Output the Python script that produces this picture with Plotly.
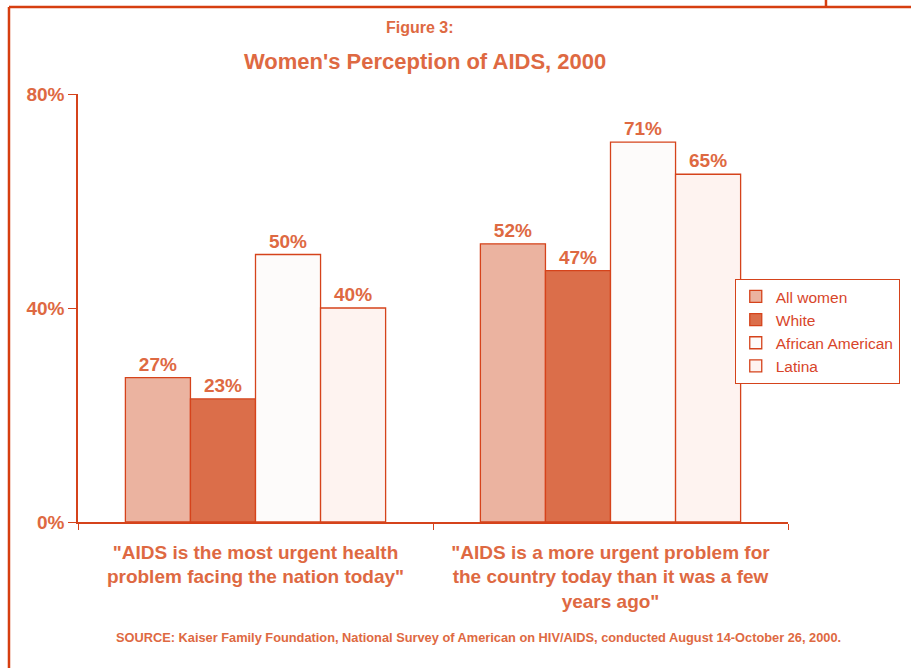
import plotly.graph_objects as go

# data
categories = [
    '"AIDS is the most urgent health<br>problem facing the nation today"',
    '"AIDS is a more urgent problem for<br>the country today than it was a few<br>years ago"',
]
groups = ["All women", "White", "African American", "Latina"]
values = {
    "All women": [27, 52],
    "White": [23, 47],
    "African American": [50, 71],
    "Latina": [40, 65],
}
y_ticks = [0, 40, 80]
y_ticklabels = ["0%", "40%", "80%"]

fills = {
    "All women": "#EBB3A0",
    "White": "#DB6E4A",
    "African American": "#FDFBFA",
    "Latina": "#FEF3F0",
}
TXT = "#DE6942"
EDGE = "#D5431B"
FRAME = "#D63E10"
FONT = "Liberation Sans, Arial, sans-serif"

fig = go.Figure()
for g in groups:
    fig.add_trace(go.Bar(
        x=categories, y=values[g], name=g,
        marker=dict(color=fills[g], line=dict(color=EDGE, width=1.3)),
        text=[f"{v}%" for v in values[g]], textposition="outside",
        textfont=dict(size=19, color=TXT, family=FONT, weight="bold"),
        cliponaxis=False,
    ))

fig.update_layout(
    width=911, height=668,
    margin=dict(l=78, r=123, t=94, b=146, autoexpand=False),
    paper_bgcolor="white", plot_bgcolor="white",
    barmode="group", bargap=0.267, bargroupgap=0,
    font=dict(family=FONT, color=TXT),
    showlegend=True,
    legend=dict(
        x=0.925, y=0.568, xanchor="left", yanchor="top",
        bordercolor=EDGE, borderwidth=1, bgcolor="white",
        font=dict(size=15.5, color="#D8452A", family=FONT),
        itemwidth=30, tracegroupgap=0,
    ),
    xaxis=dict(
        showline=True, linecolor=EDGE, linewidth=1.5,
        ticks="outside", tickson="boundaries", ticklen=6, tickcolor=EDGE,
        tickfont=dict(size=19, color=TXT, family=FONT, weight="bold"),
        ticklabelstandoff=12,
    ),
    yaxis=dict(
        range=[0, 80], tickvals=y_ticks, ticktext=y_ticklabels,
        showgrid=False, zeroline=False,
        showline=True, linecolor=EDGE, linewidth=1.5,
        ticks="outside", ticklen=8, tickcolor=EDGE,
        tickfont=dict(size=19, color=TXT, family=FONT, weight="bold"),
    ),
)

fig.add_annotation(text="Figure 3:", x=0.4817, y=1.1565, xref="paper", yref="paper",
                   xanchor="center", yanchor="middle", showarrow=False,
                   font=dict(size=16, color=TXT, family=FONT, weight="bold"))
fig.add_annotation(text="Women's Perception of AIDS, 2000", x=0.4887, y=1.077,
                   xref="paper", yref="paper", xanchor="center", yanchor="middle",
                   showarrow=False,
                   font=dict(size=22, color=TXT, family=FONT, weight="bold"))
fig.add_annotation(
    text="SOURCE: Kaiser Family Foundation, National Survey of American on HIV/AIDS, conducted August 14-October 26, 2000.",
    x=0.564, y=-0.2687, xref="paper", yref="paper", xanchor="center", yanchor="middle",
    showarrow=False, font=dict(size=12.8, color=TXT, family=FONT, weight="bold"))

# frame lines
fig.add_shape(type="line", xref="paper", yref="paper", x0=-0.0972, x1=-0.0972,
              y0=1.2033, y1=-0.35, line=dict(color=FRAME, width=2.5))
fig.add_shape(type="line", xref="paper", yref="paper", x0=-0.0972, x1=1.2,
              y0=1.2033, y1=1.2033, line=dict(color=FRAME, width=2.5))
fig.add_shape(type="line", xref="paper", yref="paper", x0=1.0535, x1=1.0535,
              y0=1.2033, y1=1.225, line=dict(color=FRAME, width=2.5))

fig.write_html("out.html", config={"displayModeBar": False},
               post_script="document.body.style.margin='0';")
